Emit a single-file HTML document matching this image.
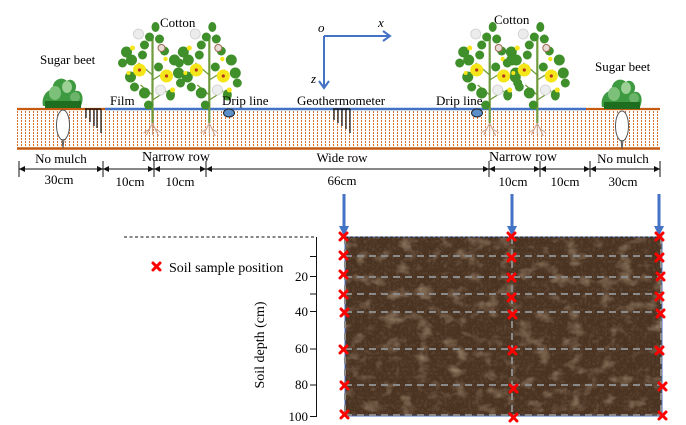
<!DOCTYPE html>
<html><head><meta charset="utf-8"><style>
html,body{margin:0;padding:0;background:#fff;}
svg{display:block;}
text{font-family:"Liberation Serif",serif;fill:#000;}
</style></head><body>
<svg width="686" height="425" viewBox="0 0 686 425" xmlns="http://www.w3.org/2000/svg">
<defs>
<pattern id="dots" x="0" y="0" width="4" height="3" patternUnits="userSpaceOnUse">
<rect x="1" y="0" width="1" height="2" fill="#d9702a" shape-rendering="crispEdges"/>
</pattern>
<filter id="soilf" x="0" y="0" width="100%" height="100%">
<feTurbulence type="fractalNoise" baseFrequency="0.06 0.08" numOctaves="3" seed="7" result="n"/>
<feColorMatrix in="n" type="matrix" values="0 0 0 0 0.58  0 0 0 0 0.45  0 0 0 0 0.31  0 0 0 2.0 -1.05" result="c"/>
<feComposite in="c" in2="SourceGraphic" operator="in"/>
</filter>
<filter id="soilf2" x="0" y="0" width="100%" height="100%">
<feTurbulence type="turbulence" baseFrequency="0.25" numOctaves="2" seed="3" result="n"/>
<feColorMatrix in="n" type="matrix" values="0 0 0 0 0.16  0 0 0 0 0.10  0 0 0 0 0.06  0 0 0 1.4 -0.2" result="c"/>
<feComposite in="c" in2="SourceGraphic" operator="in"/>
</filter>
<g id="cotton">
<line x1="0" y1="22" x2="0" y2="108" stroke="#6f9b3c" stroke-width="2.2"/>
<line x1="0" y1="60" x2="-14" y2="48" stroke="#6f9b3c" stroke-width="1.3"/>
<line x1="0" y1="65" x2="16" y2="55" stroke="#6f9b3c" stroke-width="1.3"/>
<line x1="0" y1="80" x2="-12" y2="70" stroke="#6f9b3c" stroke-width="1.3"/>
<line x1="0" y1="85" x2="14" y2="76" stroke="#6f9b3c" stroke-width="1.3"/>
<path d="M0 108 L-6 120 M0 108 L6 121 M0 108 L0 120 M-3 114 L-9 118 M3 114 L9 118" stroke="#c9a08a" stroke-width="1" fill="none"/>
<g fill="#3f8f2a">
<ellipse cx="3" cy="12" rx="4" ry="5"/>
<ellipse cx="-3" cy="22" rx="4.5" ry="4.5"/>
<ellipse cx="7" cy="24" rx="4.5" ry="4.5"/>
<ellipse cx="-8" cy="30" rx="4.5" ry="4.5"/>
<ellipse cx="12" cy="36" rx="4.5" ry="4.5"/>
<ellipse cx="-26" cy="37" rx="5.5" ry="5.5"/>
<ellipse cx="-21" cy="45" rx="5.5" ry="5.5"/>
<ellipse cx="-30" cy="48" rx="4.5" ry="4.5"/>
<ellipse cx="-10" cy="40" rx="4.5" ry="4.5"/>
<ellipse cx="22" cy="45" rx="5.5" ry="5.5"/>
<ellipse cx="26" cy="58" rx="5.5" ry="5.5"/>
<ellipse cx="28" cy="68" rx="4.5" ry="4.5"/>
<ellipse cx="-22" cy="62" rx="5.5" ry="5.5"/>
<ellipse cx="-18" cy="72" rx="4.5" ry="4.5"/>
<ellipse cx="-8" cy="78" rx="5.5" ry="5.5"/>
<ellipse cx="18" cy="80" rx="4.5" ry="5.5"/>
<ellipse cx="-4" cy="90" rx="4.5" ry="4.5"/>
<ellipse cx="6" cy="52" rx="4.5" ry="4.5"/>
</g>
<circle cx="-13" cy="55" r="6.5" fill="#f5e61a"/><circle cx="-13" cy="55" r="1.6" fill="#b5341e"/>
<circle cx="14" cy="61" r="6.5" fill="#f5e61a"/><circle cx="14" cy="61" r="1.6" fill="#b5341e"/>
<circle cx="-20" cy="33" r="2.5" fill="#f5e61a"/>
<circle cx="-24" cy="58" r="2" fill="#f5e61a"/>
<circle cx="20" cy="75" r="2.5" fill="#f5e61a"/>
<circle cx="13" cy="44" r="2.2" fill="#f5e61a"/>
<circle cx="-14" cy="19" r="5" fill="#ececec" stroke="#cfcfcf" stroke-width="0.8"/>
<circle cx="9" cy="33" r="3.5" fill="#e9dcd4" stroke="#9b6a55" stroke-width="1"/>
<circle cx="8" cy="75" r="5" fill="#eeeeee" stroke="#cfcfcf" stroke-width="0.8"/>
</g>
<g id="beet">
<path d="M-20 31 C-22 22 -16 14 -10 15 C-12 6 -2 0 4 6 C8 2 16 8 12 16 C18 14 22 22 18 31 Z" fill="#3e9a40"/>
<ellipse cx="-8" cy="18" rx="6" ry="7" fill="#7cc07a"/>
<ellipse cx="4" cy="12" rx="5" ry="6" fill="#9cd094"/>
<ellipse cx="12" cy="22" rx="5" ry="5" fill="#6bb46a"/>
<rect x="-18" y="26" width="36" height="7" fill="#1f6e1f"/>
<ellipse cx="0" cy="50" rx="6.5" ry="15" fill="#fff" stroke="#555" stroke-width="1"/>
<path d="M-1 64 L0 73 L1 64" stroke="#555" fill="none" stroke-width="1"/>
</g>
</defs>

<rect x="17" y="110" width="643" height="37" fill="url(#dots)"/>
<line x1="17" y1="109" x2="105" y2="109" stroke="#c55a11" stroke-width="2.2"/>
<line x1="105" y1="109" x2="586" y2="109" stroke="#4472c4" stroke-width="2.6"/>
<line x1="586" y1="109" x2="660" y2="109" stroke="#c55a11" stroke-width="2.2"/>
<line x1="17" y1="148.5" x2="660" y2="148.5" stroke="#c55a11" stroke-width="2.5"/>

<use href="#beet" x="63" y="75"/>
<use href="#beet" x="622" y="76"/>

<g stroke="#111" stroke-width="1.2">
<line x1="85" y1="109" x2="101" y2="109"/>
<line x1="86" y1="109" x2="86" y2="118"/>
<line x1="90" y1="109" x2="90" y2="122"/>
<line x1="94" y1="109" x2="94" y2="126"/>
<line x1="97" y1="109" x2="97" y2="128"/>
<line x1="101" y1="109" x2="101" y2="133"/>
</g>
<g stroke="#111" stroke-width="1.2">
<line x1="333" y1="109" x2="350" y2="109"/>
<line x1="334" y1="109" x2="334" y2="120"/>
<line x1="338" y1="109" x2="338" y2="123"/>
<line x1="342" y1="109" x2="342" y2="126"/>
<line x1="346" y1="109" x2="346" y2="129"/>
<line x1="350" y1="109" x2="350" y2="133"/>
</g>

<use href="#cotton" x="152.5" y="15"/>
<use href="#cotton" x="209.3" y="15"/>
<use href="#cotton" x="489.7" y="15"/>
<use href="#cotton" x="537.3" y="15"/>

<ellipse cx="229" cy="113" rx="5.5" ry="4" fill="#5b8fc9" stroke="#222" stroke-width="1"/>
<ellipse cx="477" cy="113" rx="5.5" ry="4" fill="#5b8fc9" stroke="#222" stroke-width="1"/>

<g font-size="13">
<text x="40" y="64">Sugar beet</text>
<text x="160" y="27">Cotton</text>
<text x="494" y="24">Cotton</text>
<text x="595" y="71">Sugar beet</text>
<text x="110" y="105">Film</text>
<text x="222" y="105">Drip line</text>
<text x="297" y="105">Geothermometer</text>
<text x="436" y="105">Drip line</text>
</g>

<g stroke="#4472c4" stroke-width="2" fill="none">
<path d="M324 36 L390 36"/>
<path d="M383 31 L390 36 L383 41"/>
<path d="M324 36 L324 88"/>
<path d="M319 81 L324 88 L329 81"/>
</g>
<g font-size="13" font-style="italic">
<text x="318" y="32">o</text>
<text x="378" y="27">x</text>
<text x="311" y="83">z</text>
</g>

<g font-size="13" text-anchor="middle">
<text x="61" y="163">No mulch</text>
<text x="176" y="161" font-size="14">Narrow row</text>
<text x="342" y="162">Wide row</text>
<text x="523" y="161" font-size="14">Narrow row</text>
<text x="623" y="163">No mulch</text>
<text x="59" y="184">30cm</text>
<text x="130" y="186">10cm</text>
<text x="180" y="186">10cm</text>
<text x="342" y="185">66cm</text>
<text x="513" y="186">10cm</text>
<text x="565" y="186">10cm</text>
<text x="623" y="186">30cm</text>
</g>
<g stroke="#111" stroke-width="1">
<line x1="19" y1="169" x2="660" y2="169"/>
<line x1="19" y1="161" x2="19" y2="177"/>
<line x1="103" y1="161" x2="103" y2="177"/>
<line x1="154" y1="161" x2="154" y2="177"/>
<line x1="206" y1="161" x2="206" y2="177"/>
<line x1="489" y1="161" x2="489" y2="177"/>
<line x1="540" y1="161" x2="540" y2="177"/>
<line x1="590" y1="161" x2="590" y2="177"/>
<line x1="660" y1="161" x2="660" y2="177"/>
</g>
<g fill="#111">
<path d="M19 169 l6 -3 v6z"/><path d="M103 169 l-6 -3 v6z"/>
<path d="M103 169 l6 -3 v6z"/><path d="M154 169 l-6 -3 v6z"/>
<path d="M154 169 l6 -3 v6z"/><path d="M206 169 l-6 -3 v6z"/>
<path d="M206 169 l6 -3 v6z"/><path d="M489 169 l-6 -3 v6z"/>
<path d="M489 169 l6 -3 v6z"/><path d="M540 169 l-6 -3 v6z"/>
<path d="M540 169 l6 -3 v6z"/><path d="M590 169 l-6 -3 v6z"/>
<path d="M590 169 l6 -3 v6z"/><path d="M660 169 l-6 -3 v6z"/>
</g>

<g stroke="#4472c4" stroke-width="3">
<line x1="344" y1="194" x2="344" y2="228"/>
<line x1="512" y1="194" x2="512" y2="228"/>
<line x1="659" y1="194" x2="659" y2="228"/>
</g>
<g fill="#4472c4">
<path d="M339 226 L349 226 L344 236Z"/>
<path d="M507 226 L517 226 L512 236Z"/>
<path d="M654 226 L664 226 L659 236Z"/>
</g>

<rect x="345" y="237" width="317" height="179" fill="#4b3322"/>
<rect x="345" y="237" width="317" height="179" fill="#000" filter="url(#soilf)" opacity="0.75"/>
<rect x="345" y="237" width="317" height="179" fill="#000" filter="url(#soilf2)" opacity="0.6"/>
<rect x="345" y="237" width="317" height="179" fill="none" stroke="#4472c4" stroke-width="1"/>
<line x1="345" y1="237" x2="662" y2="237" stroke="#222" stroke-width="1" stroke-dasharray="3,2"/>
<g stroke="#8a8a8a" stroke-width="2" stroke-dasharray="7,5">
<line x1="345" y1="256" x2="662" y2="256"/>
<line x1="345" y1="277" x2="662" y2="277"/>
<line x1="345" y1="294" x2="662" y2="294"/>
<line x1="345" y1="312" x2="662" y2="312"/>
<line x1="345" y1="349" x2="662" y2="349"/>
<line x1="345" y1="385" x2="662" y2="385"/>
<line x1="345" y1="415" x2="662" y2="415"/>
<line x1="345" y1="237" x2="345" y2="416"/>
<line x1="512" y1="237" x2="512" y2="418"/>
<line x1="661" y1="237" x2="661" y2="416"/>
</g>

<line x1="124" y1="237" x2="316" y2="237" stroke="#111" stroke-width="1" stroke-dasharray="3,2.5"/>
<g stroke="#111" stroke-width="1">
<line x1="316.5" y1="237" x2="316.5" y2="417"/>
<line x1="310" y1="256.5" x2="316.5" y2="256.5"/>
<line x1="310" y1="276.5" x2="316.5" y2="276.5"/>
<line x1="310" y1="294" x2="316.5" y2="294"/>
<line x1="310" y1="311.5" x2="316.5" y2="311.5"/>
<line x1="310" y1="349" x2="316.5" y2="349"/>
<line x1="310" y1="385" x2="316.5" y2="385"/>
<line x1="310" y1="416.5" x2="316.5" y2="416.5"/>
</g>
<g font-size="13" text-anchor="end">
<text x="308" y="281">20</text>
<text x="308" y="316">40</text>
<text x="308" y="353">60</text>
<text x="308" y="389">80</text>
<text x="308" y="421">100</text>
</g>
<text transform="translate(264,345) rotate(-90)" font-size="14" text-anchor="middle">Soil depth (cm)</text>

<g stroke="#ff0000" stroke-width="3" stroke-linecap="round">
<line x1="153" y1="263" x2="160" y2="270"/><line x1="160" y1="263" x2="153" y2="270"/>
</g>
<text x="169" y="272" font-size="14">Soil sample position</text>

<g stroke="#ff0000" stroke-width="3" stroke-linecap="round">
<path d="M340 233 l7 7 m0 -7 l-7 7"/>
<path d="M340 252 l7 7 m0 -7 l-7 7"/>
<path d="M340 271 l7 7 m0 -7 l-7 7"/>
<path d="M340 291 l7 7 m0 -7 l-7 7"/>
<path d="M341 309 l7 7 m0 -7 l-7 7"/>
<path d="M340 346 l7 7 m0 -7 l-7 7"/>
<path d="M341 382 l7 7 m0 -7 l-7 7"/>
<path d="M341 411 l7 7 m0 -7 l-7 7"/>

<path d="M508 233 l7 7 m0 -7 l-7 7"/>
<path d="M508 254 l7 7 m0 -7 l-7 7"/>
<path d="M508 274 l7 7 m0 -7 l-7 7"/>
<path d="M508 294 l7 7 m0 -7 l-7 7"/>
<path d="M509 311 l7 7 m0 -7 l-7 7"/>
<path d="M509 347 l7 7 m0 -7 l-7 7"/>
<path d="M510 385 l7 7 m0 -7 l-7 7"/>
<path d="M510 414 l7 7 m0 -7 l-7 7"/>

<path d="M656 233 l7 7 m0 -7 l-7 7"/>
<path d="M656 254 l7 7 m0 -7 l-7 7"/>
<path d="M657 273 l7 7 m0 -7 l-7 7"/>
<path d="M656 293 l7 7 m0 -7 l-7 7"/>
<path d="M657 310 l7 7 m0 -7 l-7 7"/>
<path d="M656 347 l7 7 m0 -7 l-7 7"/>
<path d="M659 383 l7 7 m0 -7 l-7 7"/>
<path d="M659 412 l7 7 m0 -7 l-7 7"/>
</g>
</svg>
</body></html>
